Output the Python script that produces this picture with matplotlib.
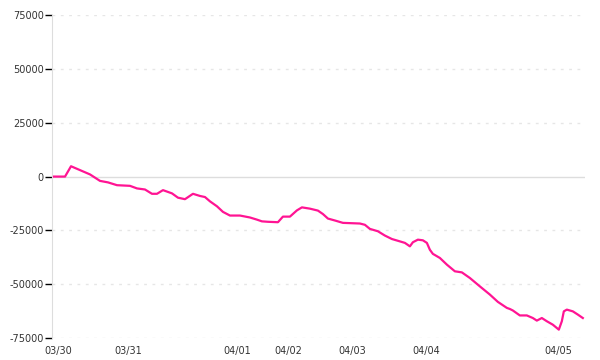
import numpy as np
import matplotlib
matplotlib.use("Agg")
import matplotlib.pyplot as plt

# sample index (time steps) and cumulative value
idx = [0, 11, 17, 26, 36, 46, 54, 63, 76, 83, 91, 98, 103, 109, 118, 124, 131,
       139, 146, 151, 156, 163, 169, 176, 186, 196, 203, 208, 214, 224, 229, 236,
       243, 248, 256, 264, 269, 274, 281, 289, 306, 311, 316, 324, 331, 338, 346,
       351, 356, 359, 364, 369, 373, 376, 379, 386, 393, 401, 408, 416, 426, 436,
       444, 453, 456, 459, 466, 473, 479, 483, 488, 493, 499, 505, 508, 510, 513,
       519, 524, 529]
values = [0, 0, 4800, 3000, 1000, -2000, -2700, -4000, -4300, -5500, -6000,
          -8000, -8000, -6300, -7800, -9800, -10500, -8000, -9000, -9500, -11500,
          -13800, -16400, -18100, -18100, -19000, -20000, -20800, -21000, -21200,
          -18600, -18600, -15700, -14300, -14900, -15800, -17400, -19500, -20400,
          -21500, -21800, -22400, -24300, -25400, -27400, -29000, -30100, -30800,
          -32400, -30500, -29300, -29600, -30800, -34000, -35900, -37800, -40900,
          -44000, -44500, -47100, -51000, -54800, -58200, -61000, -61500, -62200,
          -64500, -64500, -65700, -66900, -65700, -67200, -68800, -71100, -67200,
          -62600, -61800, -62600, -64100, -65700]

tick_idx = [4, 74, 183, 234, 298, 372, 504]
tick_labels = ["03/30", "03/31", "04/01", "04/02", "04/03", "04/04", "04/05"]
yticks = [-75000, -50000, -25000, 0, 25000, 50000, 75000]

fig = plt.figure(figsize=(6, 3.6), dpi=100)
ax = fig.add_axes([0.0867, 0.061, 0.888, 0.897])

for y in yticks:
    if y == 0:
        ax.axhline(y, color="#dddddd", lw=1, zorder=1)
    else:
        ax.axhline(y, color="#e6e6e6", lw=1, ls=(0, (2, 4)), zorder=1)

ax.plot(idx, values, color="#ff1493", lw=1.6, zorder=3)

ax.set_xlim(-2, 531)
ax.set_ylim(-75000, 75000)
ax.set_yticks(yticks)
ax.set_yticklabels([str(y) for y in yticks])
ax.set_xticks(tick_idx)
ax.set_xticklabels(tick_labels)

for s in ["top", "right", "bottom"]:
    ax.spines[s].set_visible(False)
ax.spines["left"].set_color("#dddddd")

ax.tick_params(axis="y", length=5, width=1, color="black", labelsize=7, pad=1,
               labelcolor="#333333")
ax.tick_params(axis="x", length=0, labelsize=7, pad=6, labelcolor="#333333")

fig.savefig("out.png", dpi=100)
